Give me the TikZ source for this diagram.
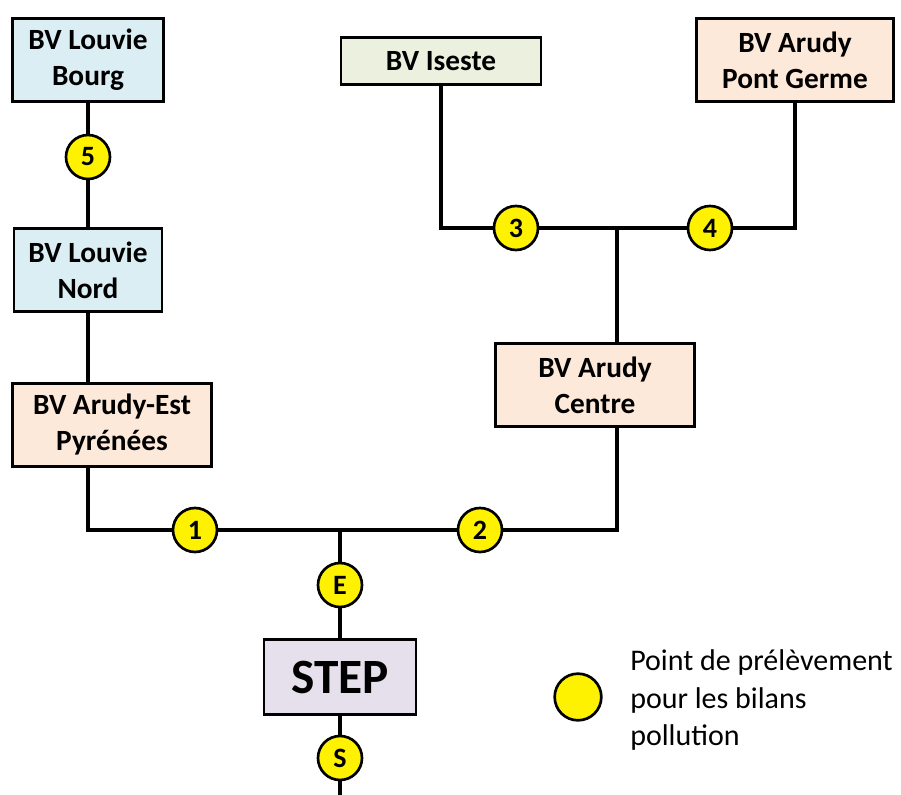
\documentclass[tikz,border=0pt]{standalone}
\usepackage{fontspec}
\setmainfont{Carlito}
\usetikzlibrary{positioning}

\definecolor{bleu}{HTML}{DAEEF3}
\definecolor{vert}{HTML}{EBF1DE}
\definecolor{peche}{HTML}{FDE9D9}
\definecolor{lavande}{HTML}{E5E0EC}

\begin{document}
\begin{tikzpicture}[x=0.75pt, y=-0.75pt,
  bv/.style={draw=black, line width=2.2pt, inner sep=0pt, align=center,
    font=\fontsize{22}{27}\selectfont\bfseries},
  sample/.style={circle, draw=black, fill=yellow, line width=2pt, inner sep=0pt,
    minimum size=33pt, font=\fontsize{21}{24}\selectfont\bfseries},
  conduite/.style={line width=3pt}]
\useasboundingbox (0,0) rectangle (901,795);
% bassins versants
\node[bv, fill=bleu, minimum width=113pt, minimum height=62pt] (louvieb) at (88,60) {BV Louvie\\Bourg};
\node[bv, fill=bleu, minimum width=111pt, minimum height=62pt] (louvien) at (88,270) {BV Louvie\\Nord};
\node[bv, fill=peche, minimum width=149pt, minimum height=62pt] (arudyest) at (112,425) {BV Arudy-Est\\Pyrénées};
\node[bv, fill=vert, minimum width=150pt, minimum height=35pt] (iseste) at (441,61) {BV Iseste};
\node[bv, fill=peche, minimum width=148pt, minimum height=62pt] (pontgerme) at (795,60) {BV Arudy\\Pont Germe};
\node[bv, fill=peche, minimum width=149pt, minimum height=62pt] (centre) at (595,385) {BV Arudy\\Centre};
\node[bv, fill=lavande, minimum width=114pt, minimum height=56pt, font=\fontsize{37}{40}\selectfont\bfseries] (step) at (340,677) {STEP};
% points de prelevement
\node[sample] (p1) at (195,530) {1};
\node[sample] (p2) at (480,530) {2};
\node[sample] (p3) at (516,228) {3};
\node[sample] (p4) at (710,228) {4};
\node[sample] (p5) at (88,157) {5};
\node[sample] (pe) at (340,585) {E};
\node[sample] (ps) at (340,758) {S};
\coordinate (jt) at (617,228);
\coordinate (jm) at (340,530);
\coordinate (out) at (340,800);
% conduites
\draw[conduite] (louvieb) -- (p5) -- (louvien);
\draw[conduite] (louvien) -- (louvien |- arudyest.north);
\draw[conduite] (arudyest.south -| louvien) |- (p1);
\draw[conduite] (p1) -- (p2);
\draw[conduite] (p2) -| (centre.south -| jt);
\draw[conduite] (jt) -- (centre.north -| jt);
\draw[conduite] (iseste) |- (p3);
\draw[conduite] (p3) -- (p4);
\draw[conduite] (pontgerme) |- (p4);
\draw[conduite] (jm) -- (pe) -- (step) -- (ps) -- (out);
% legende
\node[sample, minimum size=35pt] (leg) at (578,697) {};
\node[anchor=west, align=left, inner sep=0pt, font=\fontsize{22.5}{28}\selectfont] (legtxt) at (630,700) {Point de prélèvement\\pour les bilans\\pollution};
\end{tikzpicture}
\end{document}
